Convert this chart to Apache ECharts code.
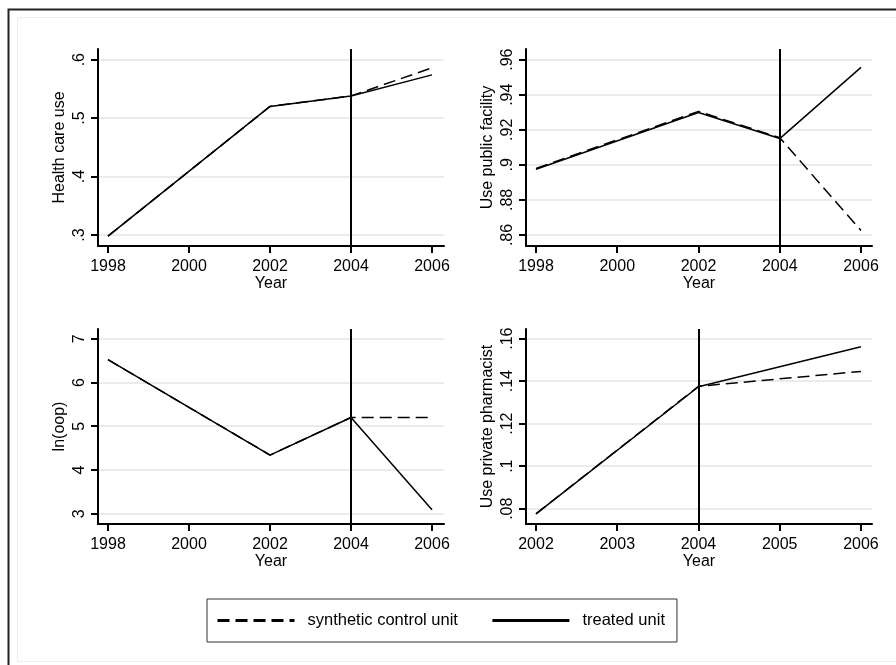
<!DOCTYPE html>
<html>
<head>
<meta charset="utf-8">
<script src="https://cdn.jsdelivr.net/npm/echarts@6.0.0/dist/echarts.min.js"></script>
<style>
html,body{margin:0;padding:0;background:#fff;}
#main{width:896px;height:665px;}
</style>
</head>
<body>
<div id="main"></div>
<script>
/************
 * synthetic control vs treated unit
 * 4 panels, Stata-like look
 * ************/

// x values / ticks
var years          = [1998, 2002, 2004, 2006];
var yearsPharm     = [2002, 2004, 2006];
var yearTicks      = [1998, 2000, 2002, 2004, 2006];
var yearTicksPharm = [2002, 2003, 2004, 2005, 2006];
var treatYear      = 2004;

// Health care use
var careTreated = [0.298, 0.520, 0.538, 0.574];
var careSynth   = [0.298, 0.520, 0.538, 0.586];
var careTicks   = [0.3, 0.4, 0.5, 0.6];

// Use public facility
var publicTreated = [0.8975, 0.9299, 0.9150, 0.9556];
var publicSynth   = [0.8980, 0.9305, 0.9155, 0.8625];
var publicTicks   = [0.86, 0.88, 0.90, 0.92, 0.94, 0.96];

// ln(oop)
var oopTreated = [6.52, 4.34, 5.20, 3.09];
var oopSynth   = [6.52, 4.34, 5.20, 5.20];
var oopTicks   = [3, 4, 5, 6, 7];

// Use private pharmacist
var pharmTreated = [0.0776, 0.1374, 0.1562];
var pharmSynth   = [0.0776, 0.1376, 0.1446];
var pharmTicks   = [0.08, 0.10, 0.12, 0.14, 0.16];

var seriesNames = ["synthetic control unit", "treated unit"];

var FONT  = "Liberation Sans, Arial, sans-serif";
var GRIDC = "#e6edf1";

function pairs(xs, ys){
	var out = [];
	for(var i=0;i<xs.length;i++) out.push([xs[i], ys[i]]);
	return out;
}

// stata style: .5 instead of 0.5
function stataNum(v){
	var s = String(+(+v).toFixed(4));
	return s.replace(/^0\./, ".");
}

var panels = [
	{ grid:{left:98, top:49, width:346, height:197},   xs:years,      xt:yearTicks,      xmin:1997.753, xmax:2006.296, yt:careTicks,   ymin:0.2811, ymax:0.6183, name:"Health care use",        tr:careTreated,   sy:careSynth },
	{ grid:{left:526, top:49, width:346, height:197},  xs:years,      xt:yearTicks,      xmin:1997.754, xmax:2006.271, yt:publicTicks, ymin:0.8537, ymax:0.9661, name:"Use public facility",    tr:publicTreated, sy:publicSynth },
	{ grid:{left:98, top:329, width:346, height:195},  xs:years,      xt:yearTicks,      xmin:1997.753, xmax:2006.296, yt:oopTicks,    ymin:2.764,  ymax:7.222,  name:"ln(oop)",                tr:oopTreated,    sy:oopSynth },
	{ grid:{left:526, top:329, width:346, height:195}, xs:yearsPharm, xt:yearTicksPharm, xmin:2001.877, xmax:2006.136, yt:pharmTicks,  ymin:0.0728, ymax:0.16456, name:"Use private pharmacist", tr:pharmTreated,  sy:pharmSynth }
];

var grids = [], xAxes = [], yAxes = [], series = [];

for(var i=0;i<panels.length;i++){
	var p = panels[i];
	grids.push(p.grid);

	xAxes.push({
		type:"value", gridIndex:i, min:p.xmin, max:p.xmax,
		name:"Year", nameLocation:"middle", nameGap:28,
		nameTextStyle:{color:"#000", fontSize:16, fontFamily:FONT},
		axisLine:{show:true, onZero:false, lineStyle:{color:"#000", width:2}},
		axisTick:{show:true, length:7, lineStyle:{color:"#000", width:2}, customValues:p.xt},
		axisLabel:{color:"#000", fontSize:16, fontFamily:FONT, margin:13, customValues:p.xt, formatter:function(v){return String(Math.round(v));}},
		splitLine:{show:false}
	});

	yAxes.push({
		type:"value", gridIndex:i, min:p.ymin, max:p.ymax,
		name:p.name, nameLocation:"middle", nameGap:30, nameRotate:90,
		nameTextStyle:{color:"#000", fontSize:16, fontFamily:FONT},
		axisLine:{show:true, onZero:false, lineStyle:{color:"#000", width:2}},
		axisTick:{show:true, length:7, lineStyle:{color:"#000", width:2}, customValues:p.yt},
		axisLabel:{color:"#000", fontSize:16, fontFamily:FONT, margin:10, rotate:90, customValues:p.yt, formatter:stataNum},
		splitLine:{show:true, lineStyle:{color:GRIDC, width:2}}
	});

	series.push({
		name:seriesNames[0], type:"line", xAxisIndex:i, yAxisIndex:i,
		data:pairs(p.xs, p.sy), symbol:"none", silent:true, animation:false,
		color:"#000", itemStyle:{color:"#000"},
		lineStyle:{color:"#000", width:1.5, type:[12,6]}
	});
	series.push({
		name:seriesNames[1], type:"line", xAxisIndex:i, yAxisIndex:i,
		data:pairs(p.xs, p.tr), symbol:"none", silent:true, animation:false,
		color:"#000", itemStyle:{color:"#000"},
		lineStyle:{color:"#000", width:1.5},
		markLine:{
			silent:true, symbol:"none", animation:false, label:{show:false},
			lineStyle:{color:"#000", width:2, type:"solid"},
			data:[{xAxis:treatYear}]
		}
	});
}

var option = {
	backgroundColor:"#fff",
	animation:false,
	grid:grids,
	xAxis:xAxes,
	yAxis:yAxes,
	series:series,
	legend:{
		data:seriesNames,
		left:207, top:599,
		orient:"horizontal",
		padding:[13, 12, 13, 9],
		borderColor:"#333", borderWidth:1,
		itemWidth:77, itemHeight:14, itemGap:33,
		itemStyle:{opacity:0},
		lineStyle:{width:3},
		textStyle:{color:"#000", fontSize:16.5, fontFamily:FONT, padding:[0,0,0,8]},
		selectedMode:false
	},
	graphic:[
		// outer frame (image is cropped on right/bottom)
		{type:"rect", silent:true, shape:{x:8.5, y:9.5, width:1000, height:1000}, style:{fill:null, stroke:"#222", lineWidth:2}},
		{type:"rect", silent:true, shape:{x:17.5, y:17.5, width:1000, height:644}, style:{fill:null, stroke:"#eeeeee", lineWidth:1}}
	]
};

var chart = echarts.init(document.getElementById("main"), null, {renderer:"canvas"});
chart.setOption(option);
</script>
</body>
</html>
